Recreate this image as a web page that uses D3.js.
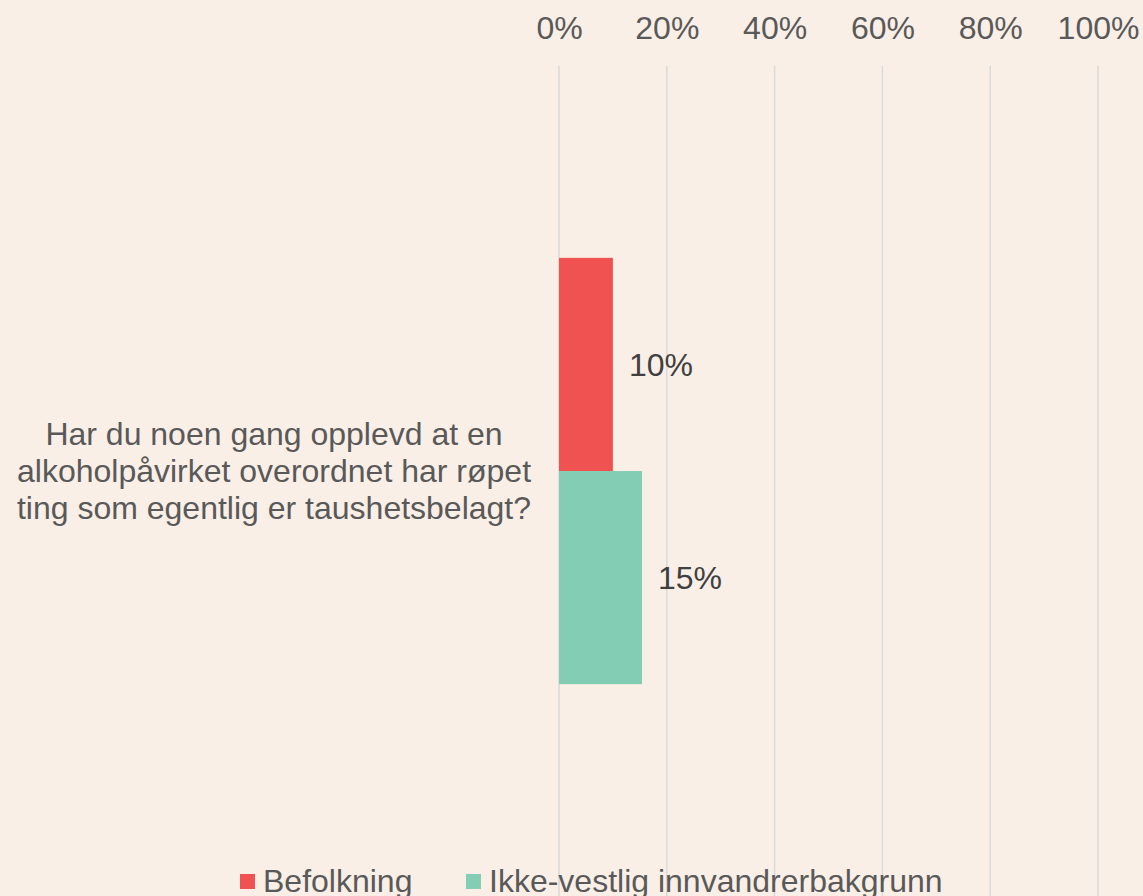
<!DOCTYPE html>
<html>
<head>
<meta charset="utf-8">
<script src="https://cdn.jsdelivr.net/npm/d3@7"></script>
<style>
  html, body { margin: 0; padding: 0; background: #f9efe7; }
  svg { display: block; font-family: "Liberation Sans", Arial, sans-serif; }
</style>
</head>
<body>
<svg id="chart"></svg>
<script>
var categories = ["Har du noen gang opplevd at en alkoholpåvirket overordnet har røpet ting som egentlig er taushetsbelagt?"];
var categoryLines = [["Har du noen gang opplevd at en", "alkoholpåvirket overordnet har røpet", "ting som egentlig er taushetsbelagt?"]];
var seriesNames = ["Befolkning", "Ikke-vestlig innvandrerbakgrunn"];
var befolkning = [0.10];
var ikkeVestlig = [0.154];
var valueLabels = [["10%"], ["15%"]];
var tickValues = [0, 0.2, 0.4, 0.6, 0.8, 1];

var colors = ["#f05252", "#83cdb5"];
var W = 1143, H = 896;

var svg = d3.select("#chart").attr("width", W).attr("height", H);
svg.append("rect").attr("width", W).attr("height", H).attr("fill", "#f9efe7");

var x = d3.scaleLinear().domain([0, 1]).range([559, 1098]);
var y = d3.scaleBand().domain(categories).range([66, 876]).paddingOuter(0.45).paddingInner(0);
var ys = d3.scaleBand().domain(seriesNames).range([0, y.bandwidth()]);

// gridlines
svg.append("g").selectAll("line")
  .data(tickValues)
  .enter().append("line")
    .attr("x1", function(d) { return x(d); })
    .attr("x2", function(d) { return x(d); })
    .attr("y1", 66).attr("y2", H)
    .attr("stroke", "#d9d9d9")
    .attr("stroke-width", 1.5);

// top axis
var axis = svg.append("g")
  .attr("transform", "translate(0,39)")
  .call(d3.axisTop(x).tickValues(tickValues).tickFormat(d3.format(".0%")).tickSize(0).tickPadding(0));
axis.select(".domain").remove();
axis.selectAll("text").attr("font-size", 32).attr("fill", "#595959").attr("font-family", "Liberation Sans, Arial, sans-serif");

var data = [befolkning, ikkeVestlig];

var series = svg.selectAll(".serie")
  .data(data)
  .enter().append("g")
    .attr("class", "serie")
    .attr("fill", function(d, i) { return colors[i]; });

series.selectAll("rect")
  .data(function(d, i) { return d.map(function(v, j) { return {v: v, cat: categories[j], s: seriesNames[i]}; }); })
  .enter().append("rect")
    .attr("x", x(0))
    .attr("y", function(d) { return y(d.cat) + ys(d.s); })
    .attr("width", function(d) { return x(d.v) - x(0); })
    .attr("height", ys.bandwidth());

series.selectAll("text")
  .data(function(d, i) { return d.map(function(v, j) { return {v: v, cat: categories[j], s: seriesNames[i], label: valueLabels[i][j]}; }); })
  .enter().append("text")
    .attr("x", function(d) { return x(d.v) + 16; })
    .attr("y", function(d) { return y(d.cat) + ys(d.s) + ys.bandwidth() / 2; })
    .attr("dy", "0.35em")
    .attr("font-size", 32)
    .attr("fill", "#404040")
    .text(function(d) { return d.label; });

// category label
var catLabel = svg.selectAll(".cat")
  .data(categories)
  .enter().append("text")
    .attr("class", "cat")
    .attr("text-anchor", "middle")
    .attr("font-size", 32)
    .attr("fill", "#595959");
catLabel.selectAll("tspan")
  .data(function(d, i) { return categoryLines[i]; })
  .enter().append("tspan")
    .attr("x", 274)
    .attr("y", function(d, i, nodes) { return y(categories[0]) + y.bandwidth() / 2 + (i - (nodes.length - 1) / 2) * 37; })
    .attr("dy", "0.35em")
    .text(function(d) { return d; });

// legend
var legend = svg.selectAll(".legend")
  .data(seriesNames)
  .enter().append("g")
    .attr("class", "legend")
    .attr("transform", function(d, i) { return "translate(" + (240 + i * 226) + ",874)"; });

legend.append("rect")
  .attr("width", 15).attr("height", 15)
  .attr("fill", function(d, i) { return colors[i]; });

legend.append("text")
  .attr("x", 23)
  .attr("y", 18)
  .attr("font-size", 32)
  .attr("fill", "#595959")
  .text(function(d) { return d; });
</script>
</body>
</html>
